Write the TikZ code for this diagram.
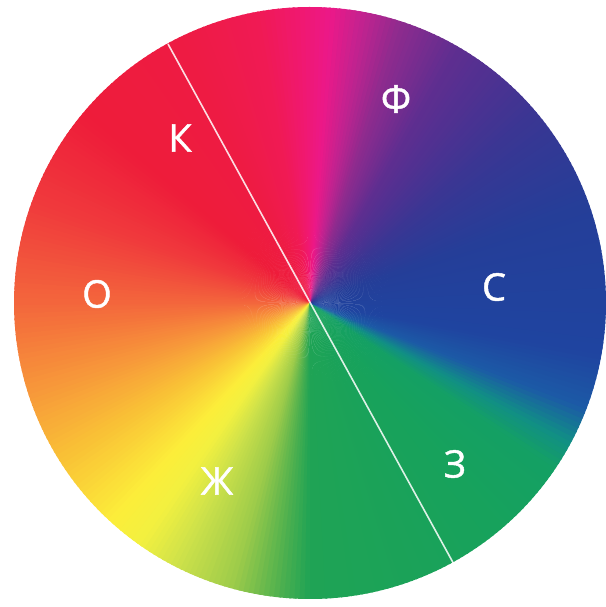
\documentclass[tikz,border=0pt]{standalone}
\usepackage{fontspec}
\setmainfont{Open Sans}
\newfontfamily\lblfont[FakeBold=1.2]{Open Sans}
\definecolor{s1}{HTML}{F3663C}
\definecolor{s2}{HTML}{F7963A}
\definecolor{s3}{HTML}{F9C136}
\definecolor{s4}{HTML}{FCEE3A}
\definecolor{s5}{HTML}{F2F040}
\definecolor{s6}{HTML}{CFE24A}
\definecolor{s7}{HTML}{9CCB4A}
\definecolor{s8}{HTML}{4FB04E}
\definecolor{s9}{HTML}{1FA355}
\definecolor{s10}{HTML}{17A25C}
\definecolor{s11}{HTML}{14A064}
\definecolor{s12}{HTML}{118E86}
\definecolor{s13}{HTML}{1C5AA6}
\definecolor{s14}{HTML}{1F44A0}
\definecolor{s15}{HTML}{253E98}
\definecolor{s16}{HTML}{3A3693}
\definecolor{s17}{HTML}{5E2E90}
\definecolor{s18}{HTML}{8E2B8E}
\definecolor{s19}{HTML}{C5228F}
\definecolor{s20}{HTML}{EC1888}
\definecolor{s21}{HTML}{F01870}
\definecolor{s22}{HTML}{F01A55}
\definecolor{s23}{HTML}{EE1B44}
\definecolor{s24}{HTML}{EE1C3A}
\definecolor{s25}{HTML}{F03A3C}
\begin{document}
\begin{tikzpicture}[x=1pt,y=1pt,
  lbl/.style={text=white,font=\lblfont\fontsize{38}{38}\selectfont,inner sep=0pt},
  divider/.style={draw=white,line width=1.6pt,opacity=0.85}]
\useasboundingbox (0,0) rectangle (605,607);
\coordinate (C) at (310,304);
\def\R{296}
\foreach \a/\b/\ca/\cb in {-180/-163/s1/s2, -163/-148/s2/s3, -148/-132/s3/s4, -132/-125/s4/s5,
  -125/-117/s5/s6, -117/-105/s6/s7, -105/-96/s7/s8, -96/-90/s8/s9, -90/-50/s9/s10,
  -50/-34/s10/s11, -34/-28/s11/s12, -28/-21/s12/s13, -21/-10/s13/s14, -10/20/s14/s15,
  20/40/s15/s16, 40/60/s16/s17, 60/72/s17/s18, 72/80/s18/s19, 80/86/s19/s20,
  86/92/s20/s21, 92/100/s21/s22, 100/115/s22/s23, 115/140/s23/s24, 140/160/s24/s25,
  160/180/s25/s1} {
  \pgfmathtruncatemacro\n{max(1,round((\b-\a)/1))}
  \pgfmathsetmacro\d{(\b-\a)/\n}
  \foreach \i in {1,...,\n} {
    \pgfmathsetmacro\t{\a+(\i-1)*\d}
    \pgfmathtruncatemacro\p{round(100*(\i-0.5)/\n)}
    \fill[\cb!\p!\ca] (C) -- ++(\t:\R) arc[start angle=\t, end angle={\t+\d+0.4}, radius=\R] -- cycle;
  }
}
\coordinate (lt) at (168,563);
\coordinate (lb) at (456,39);
\draw[divider] (lt) -- (lb);
\node[lbl] (k) at (180,469) {К};
\node[lbl] (f) at (396,508) {Ф};
\node[lbl] (s) at (494,320) {С};
\node[lbl] (z) at (455,143) {З};
\node[lbl] (zh) at (217,126) {Ж};
\node[lbl] (o) at (97,313) {О};
\end{tikzpicture}
\end{document}
